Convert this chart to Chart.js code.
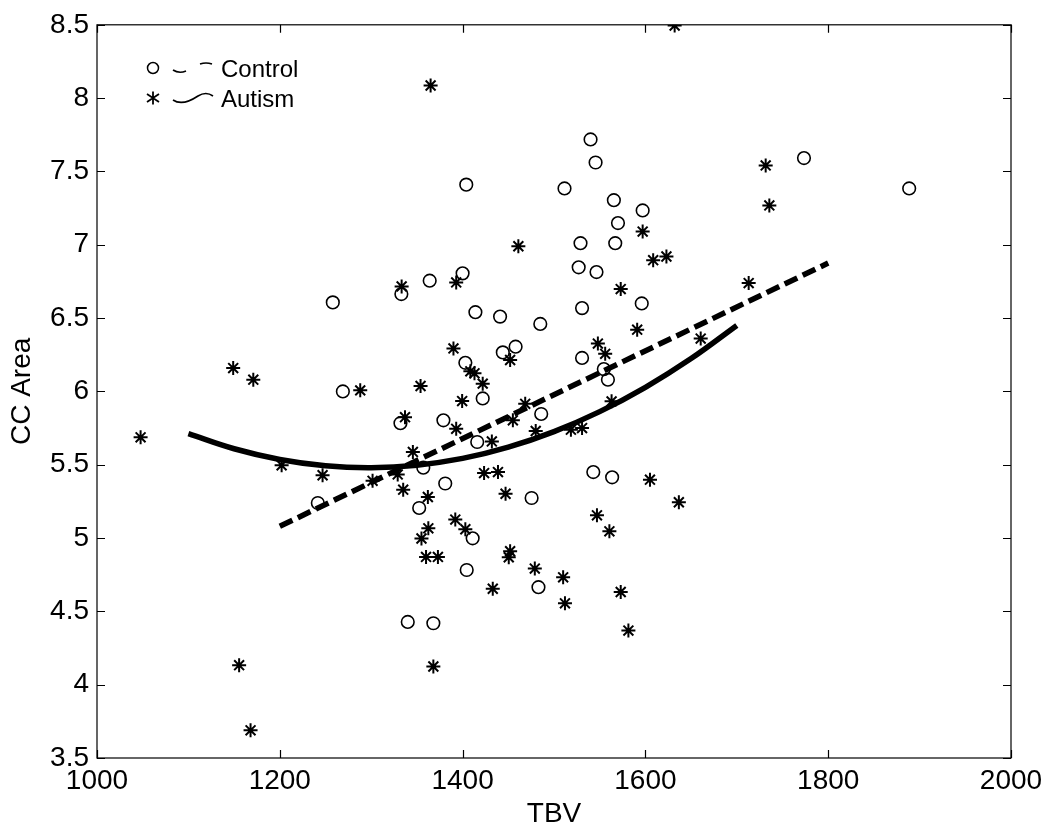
<!DOCTYPE html>
<html>
<head>
<meta charset="utf-8">
<script src="https://cdn.jsdelivr.net/npm/chart.js@4.4.1/dist/chart.umd.min.js"></script>
<style>
  html, body { margin: 0; padding: 0; background: #fff; }
</style>
</head>
<body>
<canvas id="chart" width="1050" height="831"></canvas>
<script>
// --- data ---
const xTicks = [1000, 1200, 1400, 1600, 1800, 2000];
const yTicks = [3.5, 4, 4.5, 5, 5.5, 6, 6.5, 7, 7.5, 8, 8.5];

// Control subjects (circles)
const controlTBV = [1404, 1258, 1333, 1364, 1400, 1414, 1441, 1485, 1458, 1444, 1403, 1269, 1422,
  1540, 1545.5, 1511.5, 1565.5, 1597, 1570, 1529, 1567, 1527, 1546.5, 1530.7, 1596, 1773.5, 1888.6,
  1530.7, 1554.5, 1559, 1241.6, 1332, 1357, 1379, 1381, 1352.5, 1416, 1475.5, 1486, 1411, 1404.5,
  1483, 1340, 1368, 1543, 1563.6];
const controlCC = [7.41, 6.607, 6.664, 6.755, 6.805, 6.54, 6.51, 6.46, 6.305, 6.266, 6.195, 6.0, 5.952,
  7.718, 7.561, 7.384, 7.304, 7.234, 7.148, 7.011, 7.011, 6.846, 6.814, 6.568, 6.6, 7.591, 7.384,
  6.228, 6.152, 6.08, 5.239, 5.783, 5.48, 5.803, 5.372, 5.205, 5.655, 5.273, 5.846, 4.998, 4.782,
  4.665, 4.428, 4.419, 5.45, 5.414];

// Autism subjects (stars)
const autismTBV = [1365, 1461, 1333.3, 1393, 1390, 1452, 1408.5, 1413, 1422, 1149, 1171, 1288, 1354,
  1399.5, 1632, 1597, 1608.5, 1623, 1573, 1591, 1713, 1731.6, 1735.6, 1660.5, 1548, 1556, 1563,
  1047.7, 1202, 1246.8, 1301.5, 1329, 1335, 1345.6, 1337, 1393, 1423.5, 1438.7, 1432, 1447, 1455,
  1480, 1468.5, 1392, 1403, 1362.5, 1355, 1360, 1373, 1452, 1450.5, 1433, 1479, 1368, 1155.5, 1168,
  1518.5, 1530.7, 1605, 1636.6, 1547, 1560.6, 1510, 1512, 1573, 1581.4, 1362];
const autismCC = [8.086, 6.99, 6.716, 6.743, 6.293, 6.214, 6.137, 6.123, 6.053, 6.159, 6.08, 6.007, 6.037,
  5.934, 8.495, 7.09, 6.895, 6.92, 6.698, 6.421, 6.739, 7.541, 7.268, 6.36, 6.326, 6.256, 5.932,
  5.687, 5.496, 5.428, 5.39, 5.434, 5.33, 5.587, 5.824, 5.745, 5.443, 5.45, 5.659, 5.302, 5.803,
  5.73, 5.915, 5.126, 5.06, 5.066, 4.997, 4.871, 4.871, 4.91, 4.869, 4.654, 4.792, 4.124, 4.133, 3.689,
  5.739, 5.75, 5.398, 5.244, 5.155, 5.046, 4.732, 4.555, 4.632, 4.369, 5.28];

// fitted curves, read at regular TBV steps
const controlFitTBV = [1200, 1800];
const controlFitCC = [5.08, 6.875];
const autismFitTBV = [1100, 1150, 1200, 1250, 1300, 1350, 1400, 1450, 1500, 1550, 1600, 1650, 1700];
const autismFitCC = [5.712, 5.609, 5.536, 5.493, 5.48, 5.497, 5.543, 5.62, 5.726, 5.862, 6.028, 6.224, 6.45];

const pairs = (xs, ys) => xs.map((x, i) => ({ x: x, y: ys[i] }));

const FONT = "'Liberation Sans', Arial, Helvetica, sans-serif";

// box around the plot with inward ticks on all four sides
const frame = {
  id: "frame",
  afterDatasetsDraw(chart) {
    const { ctx, chartArea: a, scales } = chart;
    const len = 8;
    ctx.save();
    ctx.strokeStyle = "#000";
    ctx.lineWidth = 1.2;
    ctx.strokeRect(a.left, a.top, a.right - a.left, a.bottom - a.top);
    ctx.beginPath();
    xTicks.forEach(v => {
      const px = Math.round(scales.x.getPixelForValue(v)) + 0.5;
      ctx.moveTo(px, a.bottom); ctx.lineTo(px, a.bottom - len);
      ctx.moveTo(px, a.top); ctx.lineTo(px, a.top + len);
    });
    yTicks.forEach(v => {
      const py = Math.round(scales.y.getPixelForValue(v)) + 0.5;
      ctx.moveTo(a.left, py); ctx.lineTo(a.left + len, py);
      ctx.moveTo(a.right, py); ctx.lineTo(a.right - len, py);
    });
    ctx.stroke();
    ctx.restore();
  }
};

// legend in the upper-left corner, marker + line sample + label
const cornerLegend = {
  id: "cornerLegend",
  afterDraw(chart) {
    const ctx = chart.ctx;
    ctx.save();
    ctx.strokeStyle = "#000";
    ctx.fillStyle = "#000";
    ctx.font = "24px " + FONT;
    ctx.textBaseline = "middle";

    // Control
    let y = 68;
    ctx.lineWidth = 1.5;
    ctx.beginPath(); ctx.arc(153, y, 5.5, 0, Math.PI * 2); ctx.stroke();
    ctx.lineWidth = 1.6;
    ctx.beginPath(); ctx.moveTo(173, y + 2); ctx.quadraticCurveTo(179, y + 6, 186, y + 3); ctx.stroke();
    ctx.beginPath(); ctx.moveTo(200, y - 4); ctx.quadraticCurveTo(206, y - 6, 212, y - 4); ctx.stroke();
    ctx.fillText("Control", 221, y + 2);

    // Autism
    y = 98;
    ctx.lineWidth = 1.8;
    ctx.beginPath();
    ctx.moveTo(153, y - 6.5); ctx.lineTo(153, y + 6.5);
    ctx.moveTo(147, y - 4); ctx.lineTo(159, y + 4);
    ctx.moveTo(147, y + 4); ctx.lineTo(159, y - 4);
    ctx.stroke();
    ctx.lineWidth = 1.6;
    ctx.beginPath();
    ctx.moveTo(173, y + 2);
    ctx.bezierCurveTo(182, y + 8, 192, y + 2, 198, y - 2);
    ctx.quadraticCurveTo(206, y - 7, 213, y - 2);
    ctx.stroke();
    ctx.fillText("Autism", 221, y + 2);
    ctx.restore();
  }
};

new Chart(document.getElementById("chart"), {
  type: "scatter",
  data: {
    datasets: [
      {
        label: "Control fit",
        type: "line",
        data: pairs(controlFitTBV, controlFitCC),
        borderColor: "#000",
        borderWidth: 5.5,
        borderDash: [14, 6],
        borderCapStyle: "butt",
        pointRadius: 0,
        fill: false,
        order: 0
      },
      {
        label: "Autism fit",
        type: "line",
        data: pairs(autismFitTBV, autismFitCC),
        borderColor: "#000",
        borderWidth: 5.5,
        tension: 0.4,
        pointRadius: 0,
        fill: false,
        order: 0
      },
      {
        label: "Control",
        data: pairs(controlTBV, controlCC),
        pointStyle: "circle",
        pointRadius: 6.3,
        backgroundColor: "rgba(0,0,0,0)",
        borderColor: "#000",
        borderWidth: 1.6,
        order: 1
      },
      {
        label: "Autism",
        data: pairs(autismTBV, autismCC),
        pointStyle: "star",
        pointRadius: 7,
        backgroundColor: "#000",
        borderColor: "#000",
        borderWidth: 2,
        order: 1
      }
    ]
  },
  options: {
    responsive: false,
    animation: false,
    events: [],
    layout: { padding: { left: 0, right: 39, top: 23, bottom: 0 } },
    plugins: {
      legend: { display: false },
      tooltip: { enabled: false }
    },
    scales: {
      x: {
        type: "linear",
        min: 1000,
        max: 2000,
        afterBuildTicks: s => { s.ticks = xTicks.map(v => ({ value: v })); },
        afterFit: s => { s.height = 73; },
        grid: { display: false, drawTicks: false },
        border: { display: false },
        ticks: {
          color: "#000",
          font: { family: FONT, size: 28 },
          padding: 6,
          maxRotation: 0,
          callback: v => String(v)
        },
        title: {
          display: true,
          text: "TBV",
          color: "#000",
          font: { family: FONT, size: 28 },
          padding: 0
        }
      },
      y: {
        type: "linear",
        min: 3.5,
        max: 8.5,
        afterBuildTicks: s => { s.ticks = yTicks.map(v => ({ value: v })); },
        afterFit: s => { s.width = 97; },
        grid: { display: false, drawTicks: false },
        border: { display: false },
        ticks: {
          color: "#000",
          font: { family: FONT, size: 28 },
          padding: 8,
          callback: v => String(v)
        },
        title: {
          display: true,
          text: "CC Area",
          color: "#000",
          font: { family: FONT, size: 28 },
          padding: { top: 5, bottom: 0 }
        }
      }
    }
  },
  plugins: [frame, cornerLegend]
});
</script>
</body>
</html>
